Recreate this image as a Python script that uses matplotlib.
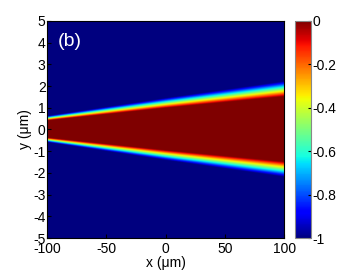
import numpy as np
import matplotlib
matplotlib.use("Agg")
import matplotlib.pyplot as plt

plt.rcParams["font.family"] = ["Liberation Sans", "DejaVu Sans"]
plt.rcParams["axes.unicode_minus"] = False

# edge of the beam: x position, edge y, transition width
edge_x = [-100, 0, 100]
edge_y = [0.5, 1.2, 1.85]
edge_w = [0.2, 0.45, 0.7]

x_ticks = [-100, -50, 0, 50, 100]
y_ticks = [-5, -4, -3, -2, -1, 0, 1, 2, 3, 4, 5]
cb_ticks = [0, -0.2, -0.4, -0.6, -0.8, -1]

x = np.linspace(-100, 100, 400)
y = np.linspace(-5, 5, 500)
X, Y = np.meshgrid(x, y)
E = np.interp(X, edge_x, edge_y)
W = np.interp(X, edge_x, edge_w)
Z = -np.clip((np.abs(Y) - E) / W + 0.5, 0, 1)

fig = plt.figure(figsize=(3.57, 2.73), dpi=100)
ax = fig.add_axes([0.1317, 0.1282, 0.664, 0.795])
im = ax.imshow(Z, extent=[-100, 100, -5, 5], origin="lower", aspect="auto",
               cmap="jet", vmin=-1, vmax=0, interpolation="bilinear")
ax.set_xticks(x_ticks)
ax.set_yticks(y_ticks)
ax.tick_params(direction="in", length=3, labelsize=10, pad=1)
ax.tick_params(axis="x", pad=3)
ax.set_xlabel("x (\u03bcm)", fontsize=10, labelpad=0)
ax.set_ylabel("y (\u03bcm)", fontsize=10, labelpad=1)
ax.text(0.045, 0.905, "(b)", transform=ax.transAxes, color="white",
        fontsize=14, ha="left", va="center")

cax = fig.add_axes([0.826, 0.1282, 0.045, 0.795])
cb = fig.colorbar(im, cax=cax, ticks=cb_ticks)
cb.ax.set_yticklabels(["0", "-0.2", "-0.4", "-0.6", "-0.8", "-1"])
cb.ax.tick_params(direction="in", length=2, labelsize=10, pad=1)
cb.outline.set_edgecolor("#888888")

fig.savefig("out.png", dpi=100)
